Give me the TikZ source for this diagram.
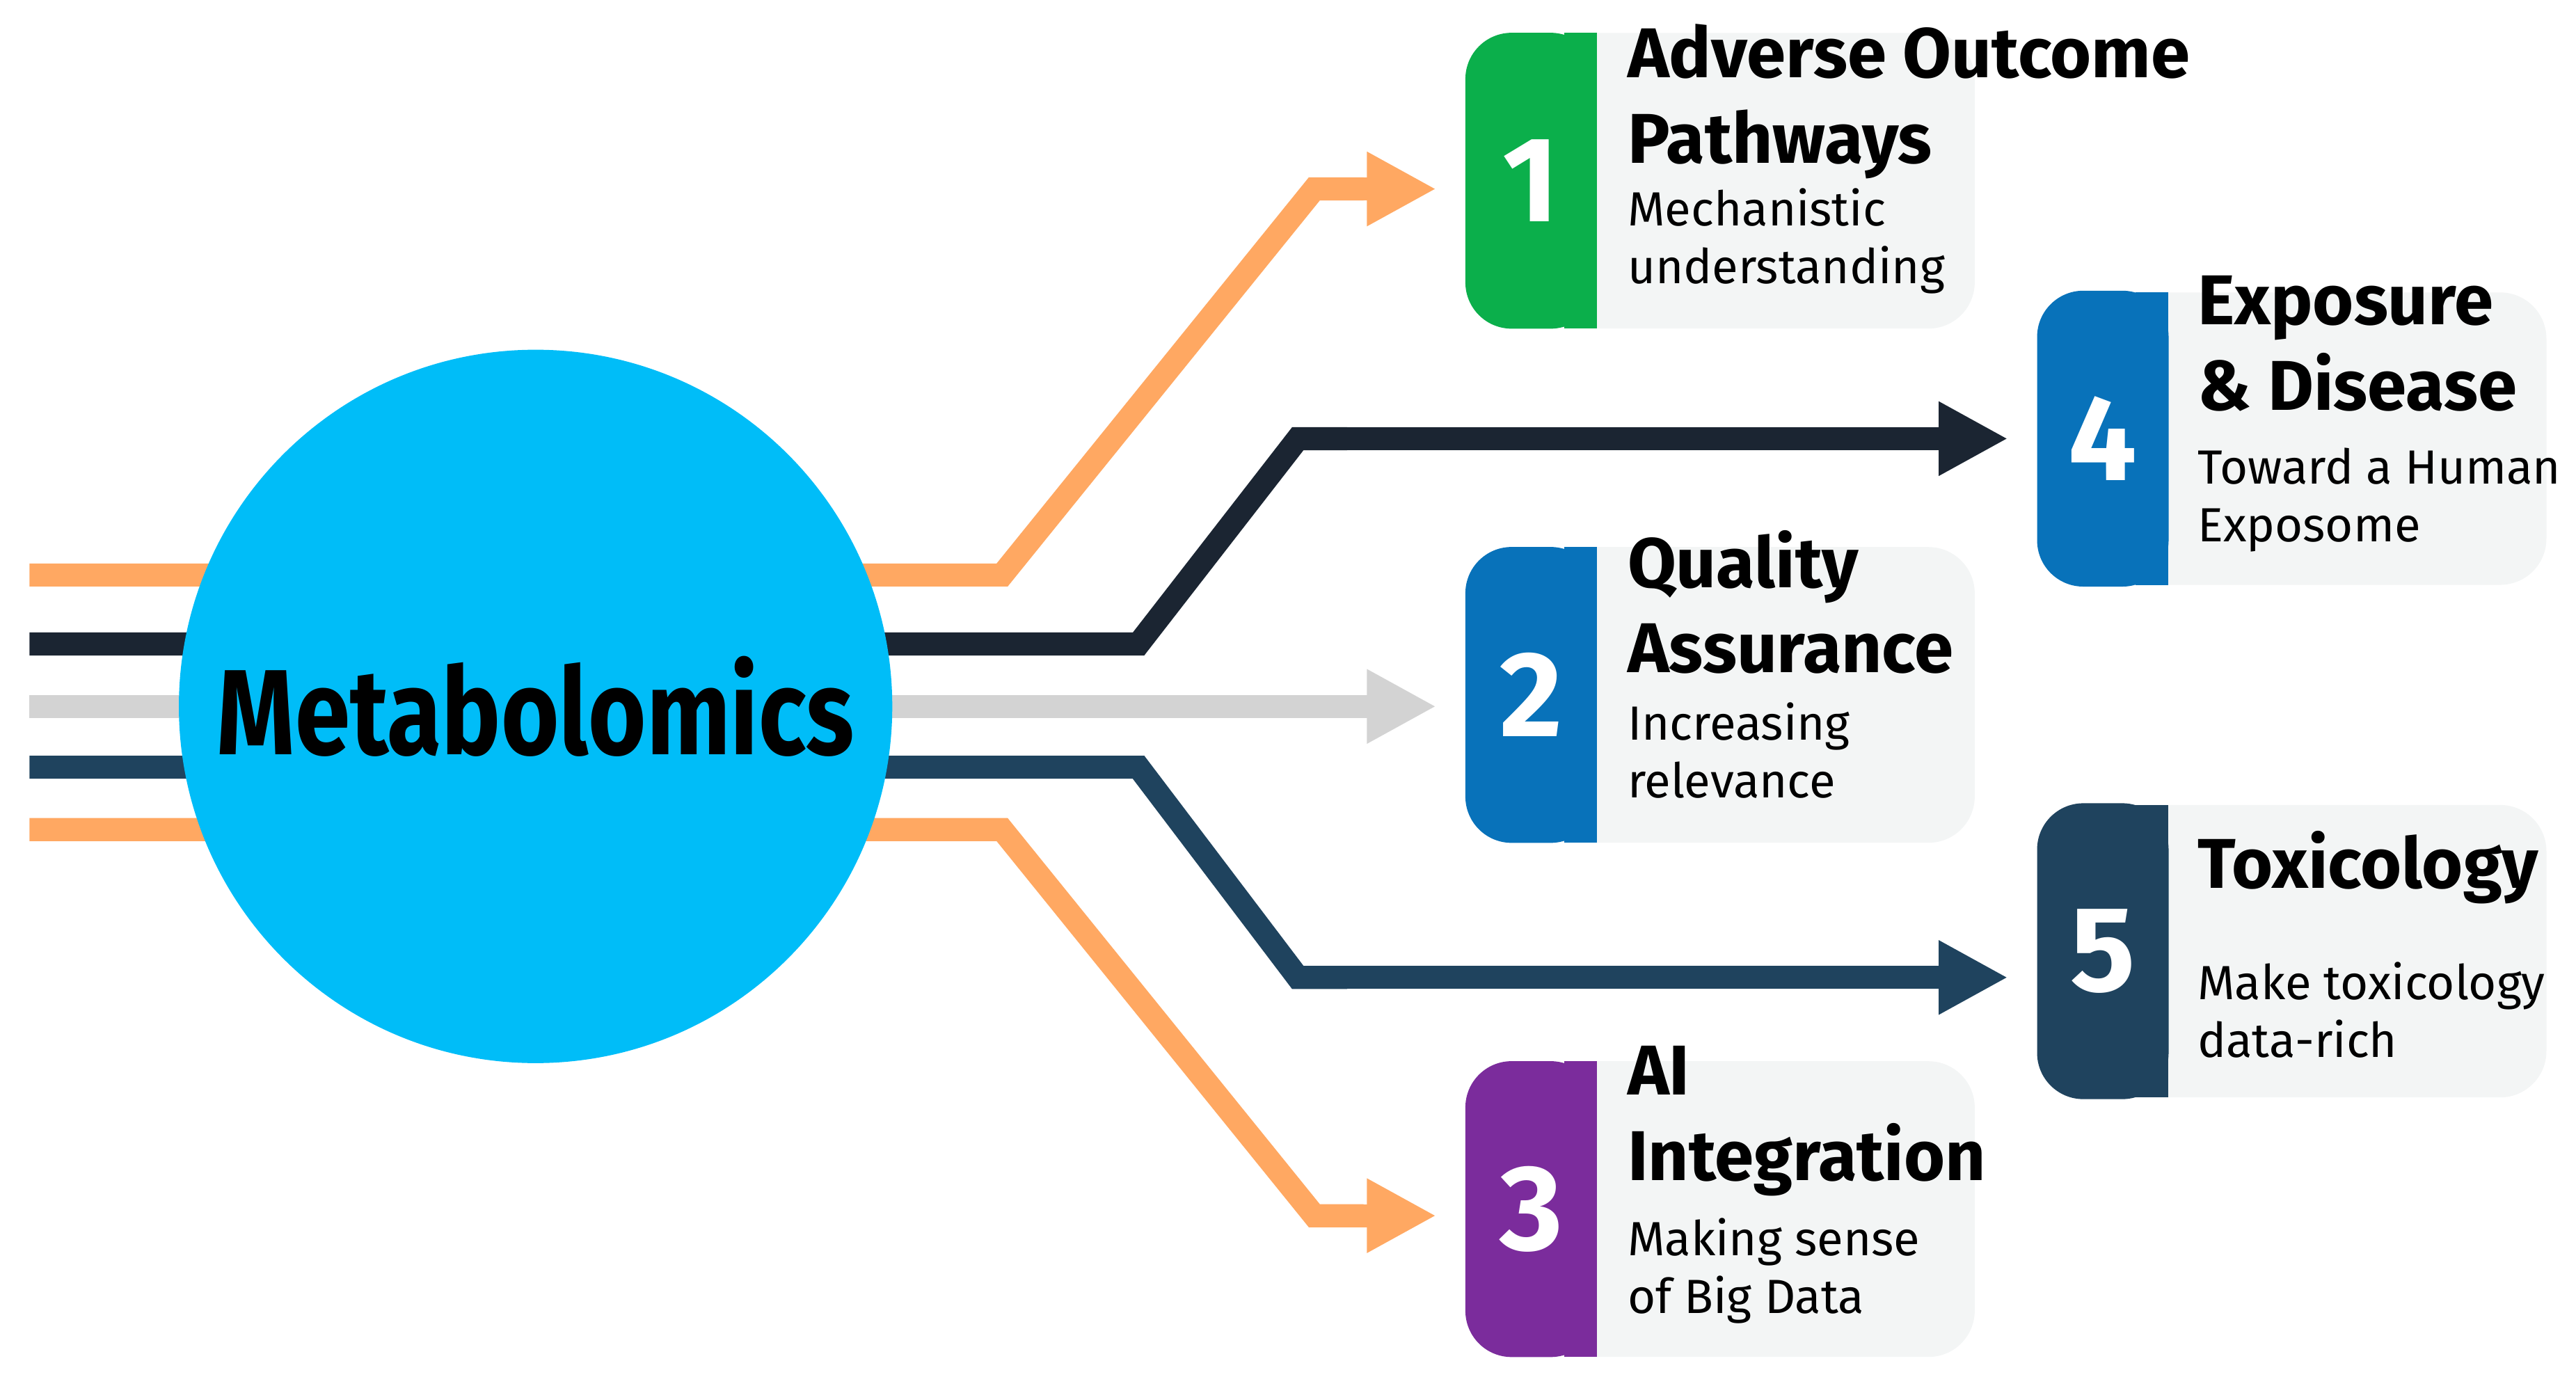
\documentclass[tikz,border=0pt]{standalone}
\usepackage{fontspec}
\setmainfont{Fira Sans}
\usetikzlibrary{arrows.meta,positioning}
\definecolor{metaBlue}{HTML}{00BDF8}
\definecolor{lineOrange}{HTML}{FFA862}
\definecolor{lineDark}{HTML}{1B2532}
\definecolor{lineGray}{HTML}{D3D3D3}
\definecolor{lineNavy}{HTML}{1F435E}
\definecolor{boxGreen}{HTML}{0BAF4B}
\definecolor{boxBlue}{HTML}{0872BA}
\definecolor{boxPurple}{HTML}{7B2C9C}
\definecolor{panelGray}{HTML}{F3F5F5}
\tikzset{
  flow/.style = {line width=4pt},
  arrowflow/.style = {flow, -{Triangle[length=12pt,width=12pt]}},
  panel/.style = {fill=panelGray, rounded corners=8pt},
  stripe/.style = {rounded corners=8pt, minimum width=0.8cm, minimum height=1.8cm,
    text=white, font=\fontsize{21}{21}\selectfont\bfseries},
  title/.style = {anchor=north west, align=left, inner sep=0pt,
    font=\fontsize{12.2}{14.8}\selectfont\bfseries},
  sub/.style = {anchor=north west, align=left, inner sep=0pt,
    font=\fontsize{8.3}{10}\selectfont}
}
\begin{document}
\begin{tikzpicture}[x=0.01cm, y=-0.01cm]
\useasboundingbox (0,0) rectangle (1568,838);
% panels behind stripes
\fill[panel] (930,20) rectangle (1202,200);
\fill[panel] (930,333) rectangle (1202,513);
\fill[panel] (930,646) rectangle (1202,826);
\fill[panel] (1278,178) rectangle (1550,356);
\fill[panel] (1278,490) rectangle (1550,668);
\node[stripe, fill=boxGreen]  (aop)  at (932,110) {1};
\node[stripe, fill=boxBlue]   (qa)   at (932,423) {2};
\node[stripe, fill=boxPurple] (ai)   at (932,736) {3};
\node[stripe, fill=boxBlue]   (exp)  at (1280,267) {4};
\node[stripe, fill=lineNavy]  (tox)  at (1280,579) {5};
\fill[boxGreen]  (952,20)  rectangle (972,200);
\fill[boxBlue]   (952,333) rectangle (972,513);
\fill[boxPurple] (952,646) rectangle (972,826);
\fill[boxBlue]   (1300,178) rectangle (1320,356);
\fill[lineNavy]  (1300,490) rectangle (1320,668);
% texts
\node[title] (aopT) at (990,14) {Adverse Outcome\\Pathways};
\node[sub]   (aopS) at (990,114) {Mechanistic\\understanding};
\node[title] (qaT)  at (990,322) {Quality\\Assurance};
\node[sub]   (qaS)  at (990,427) {Increasing\\relevance};
\node[title] (aiT)  at (990,636) {AI\\Integration};
\node[sub]   (aiS)  at (990,741) {Making sense\\of Big Data};
\node[title] (expT) at (1337,167) {Exposure\\\& Disease};
\node[sub]   (expS) at (1337,272) {Toward a Human\\Exposome};
\node[title] (toxT) at (1337,505) {Toxicology};
\node[sub]   (toxS) at (1337,585) {Make toxicology\\data-rich};
% flows
\coordinate (o1) at (18,350);
\coordinate (d1) at (18,392);
\coordinate (g1) at (18,430);
\coordinate (n1) at (18,467);
\coordinate (o2) at (18,505);
\draw[flow, lineOrange, line join=miter] (o1) -- (610,350) -- (800,115) -- (830,115);
\draw[flow, lineDark] (d1) -- (693,392) -- (790,267) -- (820,267);
\draw[flow, lineNavy] (n1) -- (693,467) -- (790,595) -- (820,595);
\draw[flow, lineOrange] (o2) -- (610,505) -- (800,740) -- (830,740);
\draw[arrowflow, lineOrange] (800,115) -- ([xshift=-0.17cm]aop.west |- 0,115);
\draw[arrowflow, lineDark] (790,267) -- ([xshift=-0.17cm]exp.west);
\draw[arrowflow, lineGray] (g1) -- ([xshift=-0.17cm]qa.west |- g1);
\draw[arrowflow, lineNavy] (790,595) -- ([xshift=-0.17cm]tox.west |- 0,595);
\draw[arrowflow, lineOrange] (800,740) -- ([xshift=-0.17cm]ai.west |- 0,740);
\node[circle, fill=metaBlue, minimum size=4.34cm, inner sep=0pt,
  font=\fontsize{21}{21}\selectfont\bfseries] (meta) at (326,430)
  {\scalebox{0.82}[1]{Metabolomics}};
\end{tikzpicture}
\end{document}
